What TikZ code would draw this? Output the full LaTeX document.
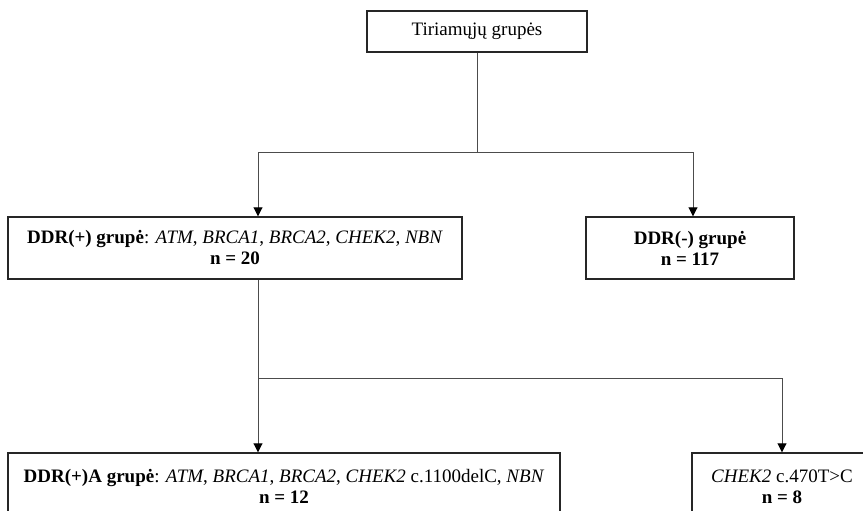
\documentclass[tikz,border=0pt]{standalone}
\usepackage{fontspec}
\setmainfont{Liberation Serif}
\usetikzlibrary{arrows.meta}
\begin{document}
\begin{tikzpicture}[x=1pt,y=-1pt,
  box/.style={draw=black!85,line width=1.4pt,inner sep=0pt,align=center,
    font=\fontsize{19}{21}\selectfont},
  conn/.style={draw=black!70,line width=0.9pt},
  arr/.style={conn,-{Triangle[width=9pt,length=9pt,fill=black,color=black]}}]
\useasboundingbox (0,0) rectangle (863,511);
\clip (0,0) rectangle (863,511);
\fill[white] (0,0) rectangle (863,511);
\node[box,minimum width=220pt,minimum height=41pt] (top) at (477,31.5) {Tiriamųjų grupės};
\node[box,minimum width=454pt,minimum height=62pt] (plus) at (235,248)
  {\textbf{DDR(+) grupė}: \textit{ATM}, \textit{BRCA1}, \textit{BRCA2}, \textit{CHEK2}, \textit{NBN}\\\textbf{n = 20}};
\node[box,minimum width=208pt,minimum height=62pt] (minus) at (690,248)
  {\textbf{DDR(-) grupė}\\\textbf{n = 117}};
\node[box,minimum width=552pt,minimum height=67pt] (pa) at (284,486.5)
  {\textbf{DDR(+)A grupė}: \textit{ATM}, \textit{BRCA1}, \textit{BRCA2}, \textit{CHEK2} c.1100delC, \textit{NBN}\\\textbf{n = 12}};
\node[box,minimum width=180pt,minimum height=67pt] (pb) at (782,486.5)
  {\textit{CHEK2} c.470T>C\\\textbf{n = 8}};
\coordinate (j1) at (477,152);
\coordinate (j1L) at (258,152);
\coordinate (j1R) at (693,152);
\coordinate (j2L) at (258,378);
\coordinate (j2R) at (782,378);
\draw[conn] (top.south) -- (j1);
\draw[conn] (j1L) -- (j1R);
\draw[arr] (j1L) -- (j1L |- plus.north);
\draw[arr] (j1R) -- (j1R |- minus.north);
\draw[conn] (plus.south -| j2L) -- (j2L) -- (j2R);
\draw[arr] (j2L) -- (j2L |- pa.north);
\draw[arr] (j2R) -- (j2R |- pb.north);
\end{tikzpicture}
\end{document}
